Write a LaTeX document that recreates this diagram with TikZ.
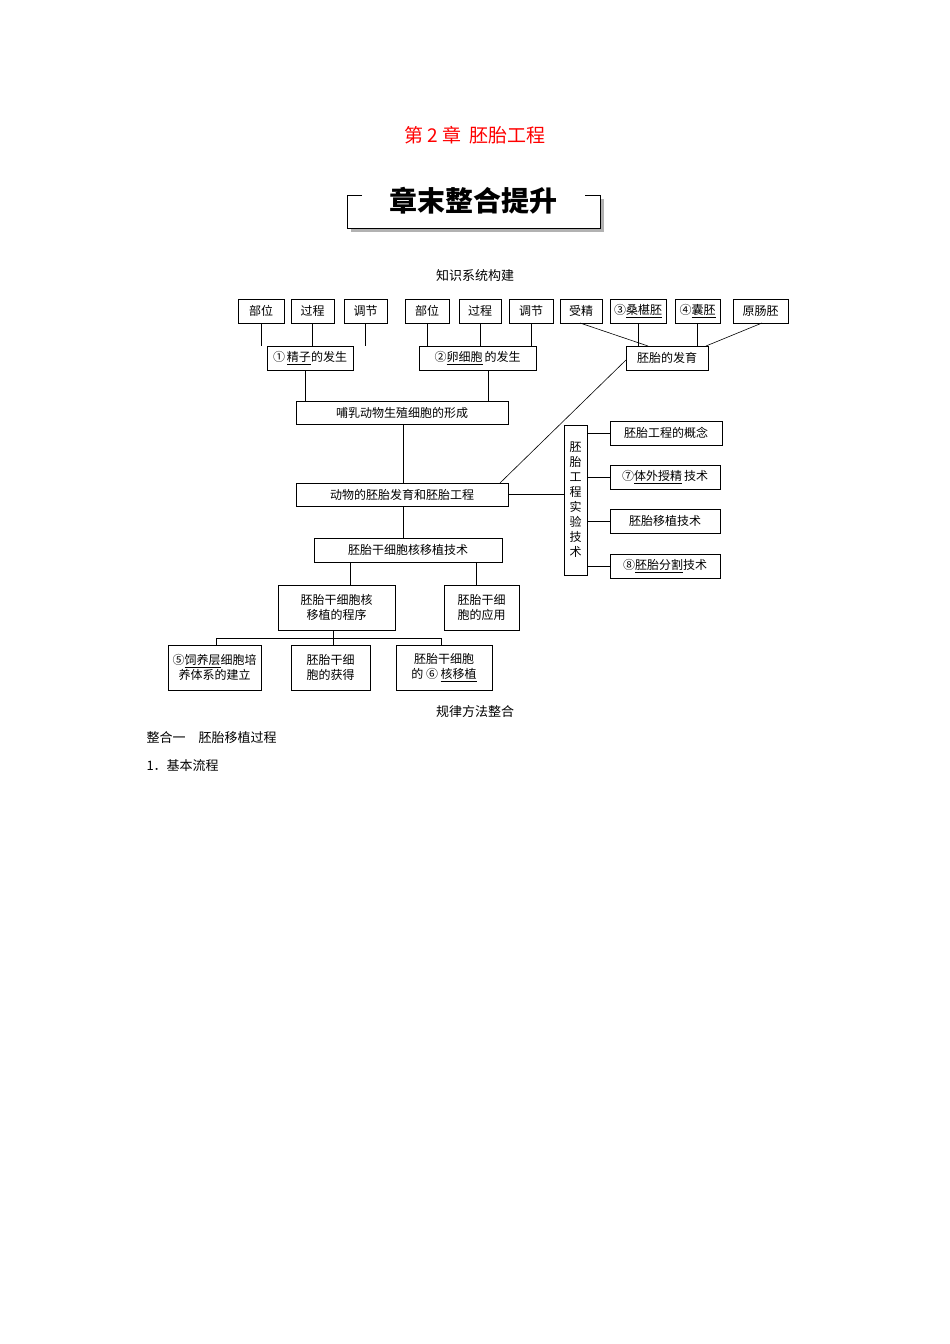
\documentclass[tikz,border=0pt]{standalone}
\usepackage{fontspec}
\setmainfont{Noto Sans CJK SC}
\begin{document}
\begin{tikzpicture}[x=1pt,y=-1pt,
  bx/.style={draw,line width=0.7pt,inner sep=0pt,font=\fontsize{12}{15}\selectfont,align=center},
  ln/.style={line width=0.6pt}]
\useasboundingbox[fill=white] (0,0) rectangle (950,1344);
\newcommand{\B}[6]{\node[bx,minimum width=#4-#2,minimum height=#5-#3] (#1) at ({(#2+#4)/2},{(#3+#5)/2}) {#6};}
\node[text=red,font=\fontsize{19}{22}\selectfont] (title) at (475,135) {第 2 章\ \ 胚胎工程};
% banner
\fill[gray!60] (351,199) rectangle (604,232);
\fill[white] (347,195) rectangle (600,228);
\draw[line width=0.7pt] (362,195) -- (347,195) -- (347,228) -- (600,228) -- (600,195) -- (585,195);
\node[font=\fontsize{28}{30}\selectfont\bfseries] (banner) at (473,201) {章末整合提升};
\node[font=\fontsize{13}{15}\selectfont] (h1) at (475,276) {知识系统构建};
% top row
\B{a1}{238}{299}{284}{323}{部位}
\B{a2}{291}{299}{334}{323}{过程}
\B{a3}{344}{299}{387}{323}{调节}
\B{b1}{405}{299}{449}{323}{部位}
\B{b2}{459}{299}{501}{323}{过程}
\B{b3}{509}{299}{553}{323}{调节}
\B{c1}{560}{299}{602}{323}{受精}
\B{c2}{610}{299}{666}{323}{③\underline{桑椹胚}}
\B{c3}{675}{299}{720}{323}{④\underline{囊胚}}
\B{c4}{733}{299}{788}{323}{原肠胚}
\B{A}{267}{346}{353}{370}{①\,\underline{精子}的发生}
\B{Bb}{419}{346}{536}{370}{②\underline{卵细胞}\,的发生}
\B{C}{626}{346}{708}{370}{胚胎的发育}
\foreach \t in {a1,a2,a3}{\draw[ln] (\t.south) -- (\t.south |- A.north);}
\foreach \t in {b1,b2,b3}{\draw[ln] (\t.south) -- (\t.south |- Bb.north);}
\foreach \t in {c2,c3}{\draw[ln] (\t.south) -- (\t.south |- C.north);}
\coordinate (cl) at (648,346); \coordinate (cr) at (706,346);
\draw[ln] (580,323) -- (cl);
\draw[ln] (762,323) -- (cr);
\B{M}{296}{401}{508}{424}{哺乳动物生殖细胞的形成}
\draw[ln] (305,370) -- (305,401);
\draw[ln] (488,370) -- (488,401);
\B{D}{296}{483}{508}{506}{动物的胚胎发育和胚胎工程}
\draw[ln] (403,424) -- (403,483);
\draw[ln] (626,360) -- (500,483);
\B{V}{564}{425}{587}{575}{胚\\胎\\工\\程\\实\\验\\技\\术}
\draw[ln] (D.east) -- (D.east -| V.west);
\B{r1}{610}{421}{722}{445}{胚胎工程的概念}
\B{r2}{610}{465}{720}{489}{⑦\underline{体外授精}\,技术}
\B{r3}{610}{509}{720}{533}{胚胎移植技术}
\B{r4}{610}{554}{720}{578}{⑧\underline{胚胎分割}技术}
\foreach \t in {r1,r2,r3,r4}{\draw[ln] (\t.west) -- (\t.west -| V.east);}
\B{E}{314}{538}{502}{562}{胚胎干细胞核移植技术}
\draw[ln] (403,506) -- (403,538);
\B{F}{278}{585}{395}{630}{胚胎干细胞核\\移植的程序}
\B{G}{444}{585}{519}{630}{胚胎干细\\胞的应用}
\draw[ln] (350,562) -- (350,585);
\draw[ln] (476,562) -- (476,585);
\B{g1}{168}{645}{261}{690}{⑤\underline{饲养层}细胞培\\养体系的建立}
\B{g2}{291}{645}{370}{690}{胚胎干细\\胞的获得}
\B{g3}{396}{645}{492}{690}{胚胎干细胞\\的 ⑥ \underline{核移植}}
\draw[ln] (333,630) -- (333,645);
\draw[ln] (216,645) -- (216,638) -- (441,638) -- (441,645);
\node[font=\fontsize{13}{15}\selectfont] (h2) at (475,712) {规律方法整合};
\node[anchor=west,font=\fontsize{13}{15}\selectfont] (h3) at (143,738) {整合一\quad 胚胎移植过程};
\node[anchor=west,font=\fontsize{13}{15}\selectfont] (h4) at (143,766) {1．基本流程};
\end{tikzpicture}
\end{document}
